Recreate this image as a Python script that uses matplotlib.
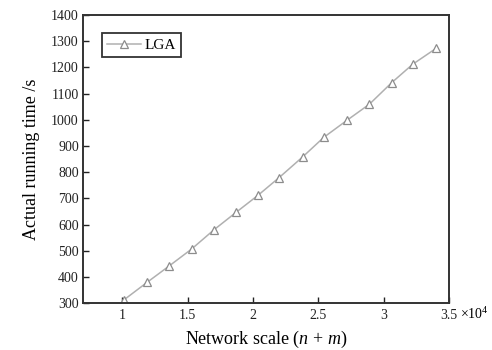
import matplotlib.pyplot as plt

# network scale (x 1e4) and running time (s)
scale = [1.01, 1.19, 1.36, 1.53, 1.70, 1.87, 2.04, 2.20, 2.38, 2.54, 2.72, 2.89, 3.06, 3.22, 3.40]
run_time = [312, 380, 443, 507, 580, 647, 713, 780, 859, 933, 999, 1060, 1142, 1212, 1273]

x_ticks = [1, 1.5, 2, 2.5, 3, 3.5]
x_tick_labels = ['1', '1.5', '2', '2.5', '3', '3.5']
y_ticks = list(range(300, 1401, 100))

plt.rcParams['font.family'] = ['Liberation Serif', 'DejaVu Serif']
plt.rcParams['mathtext.fontset'] = 'custom'
plt.rcParams['mathtext.it'] = 'Liberation Serif:italic'
plt.rcParams['mathtext.rm'] = 'Liberation Serif'

fig = plt.figure(figsize=(4.92, 3.5), dpi=100)
ax = fig.add_axes([0.1687, 0.1334, 0.7445, 0.8237])

ax.plot(scale, run_time, color='#b0b0b0', linewidth=1.1, marker='^',
        markersize=6, markerfacecolor='white', markeredgecolor='#8c8c8c',
        markeredgewidth=0.9, label='LGA')

ax.set_xlim(0.7, 3.5)
ax.set_ylim(300, 1400)
ax.set_xticks(x_ticks)
ax.set_xticklabels(x_tick_labels)
ax.set_yticks(y_ticks)
ax.tick_params(direction='in', length=4, width=1, labelsize=10, colors='#222222',
               top=False, right=False)
ax.tick_params(axis='x', pad=4)
ax.tick_params(axis='y', pad=3)
for s in ax.spines.values():
    s.set_linewidth(1.4)
    s.set_color('#333333')

ax.text(1.03, -0.036, r'$\times$10$^4$', transform=ax.transAxes, fontsize=10,
        ha='left', va='center')

ax.set_xlabel('Network scale ($n$ + $m$)', fontsize=13, labelpad=5)
ax.set_ylabel('Actual running time /s', fontsize=13, labelpad=8)

leg = ax.legend(loc='upper left', bbox_to_anchor=(0.052, 0.9375), fontsize=11,
                fancybox=False, edgecolor='#333333', framealpha=1,
                handlelength=2.2, borderpad=0.35, handletextpad=0.2,
                borderaxespad=0)
leg.get_frame().set_linewidth(1.3)

fig.savefig('out.png', dpi=100)
